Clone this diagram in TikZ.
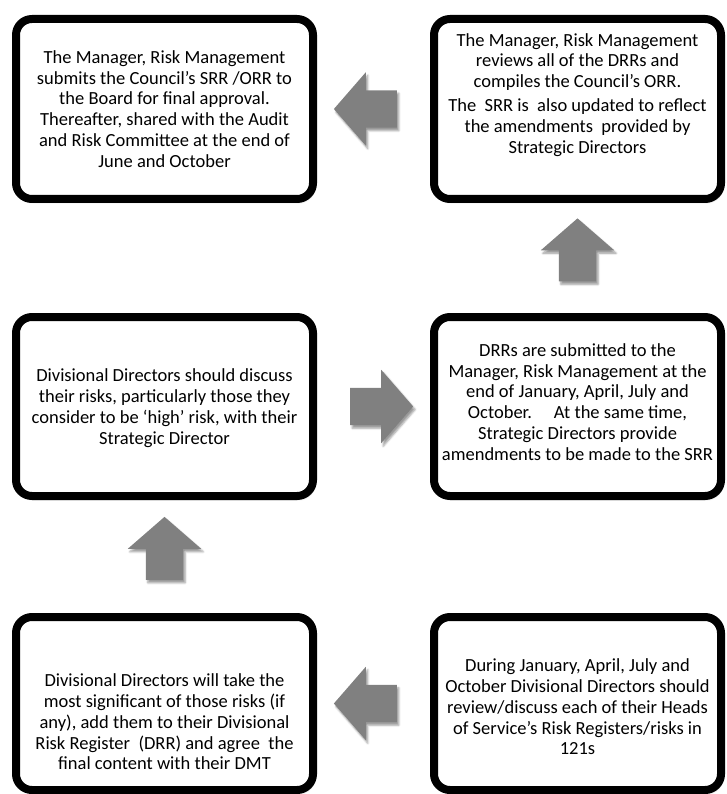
\documentclass[tikz,border=0pt]{standalone}
\usepackage{fontspec}
\setmainfont{Carlito}
\usepackage{tikz}
\usetikzlibrary{positioning,calc,shapes.arrows,shadows,shadows.blur}
\definecolor{arrowgrey}{HTML}{808080}
\definecolor{boxline}{HTML}{000000}

\begin{document}
\begin{tikzpicture}[
  x=1pt, y=-1pt,
  box/.style={draw=boxline, line width=8pt, rounded corners=16pt, fill=white,
              minimum width=297pt, inner sep=0pt,
              blur shadow={shadow xshift=1.5pt, shadow yshift=-3pt,
                           shadow blur steps=6, shadow opacity=35}},
  rbox/.style={box, minimum width=287pt},
  txt/.style={align=center, font=\fontsize{18.5}{20.8}\selectfont, inner sep=0pt},
  blockarr/.style={single arrow, fill=arrowgrey, draw=none,
                   inner xsep=0pt, inner ysep=18.5pt, minimum height=63pt,
                   single arrow head extend=18pt, single arrow tip angle=98,
                   blur shadow={shadow xshift=2pt, shadow yshift=-3pt,
                                shadow blur steps=5, shadow opacity=40}},
]
\useasboundingbox (0,0) rectangle (726,794);

% --- the six steps, left column and right column
\node[box, minimum height=180pt]  (b1) at (164.5,109)   {};
\node[rbox, minimum height=180pt] (b2) at (577.5,109)   {};
\node[box, minimum height=179pt]  (b3) at (164.5,406.5) {};
\node[rbox, minimum height=179pt] (b4) at (577.5,406.5) {};
\node[box, minimum height=173pt]  (b5) at (164.5,703.5) {};
\node[rbox, minimum height=173pt] (b6) at (577.5,703.5) {};

% --- texts (two of them sit off the centre of their box)
\node[txt] (t1) at (b1.center) {The Manager, Risk Management\\
  submits the Council’s SRR /ORR to\\ the Board for final approval.\\
  Thereafter, shared with the Audit\\ and Risk Committee at the end of\\
  June and October};
\node[txt] (t2) at ([yshift=14pt]b2.center) {The Manager, Risk Management\\
  reviews all of the DRRs and\\ compiles the Council’s ORR.\\[3.5pt]
  The\ \ SRR is\ \ also updated to reflect\\ the amendments\ \ provided by\\
  Strategic Directors};
\node[txt] (t3) at ([yshift=-1.5pt]b3.center) {Divisional Directors should discuss\\
  their risks, particularly those they\\ consider to be ‘high’ risk, with their\\
  Strategic Director};
\node[txt] (t4) at ([yshift=4.5pt]b4.center) {DRRs are submitted to the\\
  Manager, Risk Management at the\\ end of January, April, July and\\
  October.\hspace{22pt}At the same time,\\ Strategic Directors provide\\
  amendments to be made to the SRR};
\node[txt] (t5) at ([yshift=-18.5pt]b5.center) {Divisional Directors will take the\\
  most significant of those risks (if\\ any), add them to their Divisional\\
  Risk Register\ \ (DRR) and agree\ \ the\\ final content with their DMT};
\node[txt] (t6) at ([yshift=-3.5pt]b6.center) {During January, April, July and\\
  October Divisional Directors should\\ review/discuss each of their Heads\\
  of Service’s Risk Registers/risks in\\ 121s};

% --- block arrows, each half way between the two boxes it joins
\node[blockarr, rotate=180] (a65) at ($(b6.west)!0.5!(b5.east)$) {};
\node[blockarr, rotate=90]  (a53) at ($(b5.north)!0.5!(b3.south)$) {};
\node[blockarr]             (a34) at ($(b3.east)!0.5!(b4.west)$) {};
\node[blockarr, rotate=90]  (a42) at ($(b4.north)!0.5!(b2.south)$) {};
\node[blockarr, rotate=180] (a21) at ($(b2.west)!0.5!(b1.east)$) {};
\end{tikzpicture}
\end{document}
